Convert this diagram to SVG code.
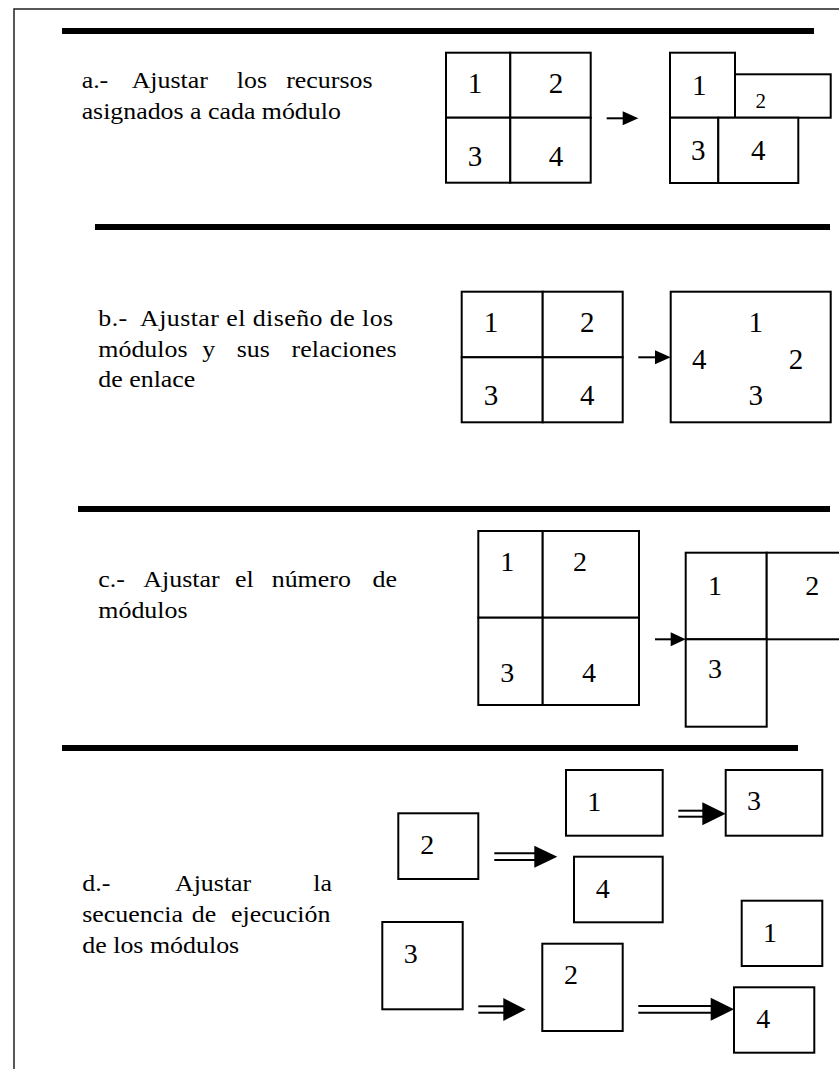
<svg xmlns="http://www.w3.org/2000/svg" width="839" height="1069" viewBox="0 0 839 1069" font-family="'Liberation Serif', 'Times New Roman', serif">
<style>
.frame{fill:none;stroke:#222;stroke-width:1.5}
.rule{stroke:#000;stroke-width:6}
.box{fill:#fff;stroke:#000;stroke-width:2}
.txt{font-family:'Liberation Serif','Times New Roman',serif;font-size:24px;fill:#000}
.num{font-family:'Liberation Serif','Times New Roman',serif;font-size:29px;fill:#000;text-anchor:middle}
.num28{font-family:'Liberation Serif','Times New Roman',serif;font-size:28px;fill:#000;text-anchor:middle}
.sm{font-family:'Liberation Serif','Times New Roman',serif;font-size:21px;fill:#000;text-anchor:middle}
.ln{stroke:#000;stroke-width:2;fill:none}
.head{fill:#000}
</style>
<rect class="frame" x="14" y="9" width="900" height="1100"/>
<g id="rules">
<line class="rule" x1="62" y1="31" x2="814" y2="31"/>
<line class="rule" x1="95" y1="227" x2="830" y2="227"/>
<line class="rule" x1="78" y1="509" x2="830" y2="509"/>
<line class="rule" x1="62" y1="748" x2="798" y2="748"/>
</g>
<g id="labels" transform="scale(1.08,1)">
<text class="txt" y="88"><tspan x="75.6">a.-</tspan><tspan x="121.9">Ajustar</tspan><tspan x="219.2">los</tspan><tspan x="265">recursos</tspan></text>
<text class="txt" x="75.6" y="119" textLength="240" lengthAdjust="spacingAndGlyphs">asignados a cada módulo</text>
<text class="txt" x="91" y="326" textLength="273" lengthAdjust="spacing">b.-&#160; Ajustar el diseño de los</text>
<text class="txt" y="357"><tspan x="91">módulos</tspan><tspan x="187.3">y</tspan><tspan x="219.2">sus</tspan><tspan x="270">relaciones</tspan></text>
<text class="txt" x="91" y="387.5">de enlace</text>
<text class="txt" y="587.5"><tspan x="91">c.-</tspan><tspan x="132.7">Ajustar</tspan><tspan x="217.6">el</tspan><tspan x="251.6">número</tspan><tspan x="345">de</tspan></text>
<text class="txt" x="91" y="618.5">módulos</text>
<text class="txt" y="891"><tspan x="76.2">d.-</tspan><tspan x="162">Ajustar</tspan><tspan x="290.1">la</tspan></text>
<text class="txt" y="922"><tspan x="76.2">secuencia</tspan><tspan x="177.5">de</tspan><tspan x="214">ejecución</tspan></text>
<text class="txt" x="76.2" y="953">de los módulos</text>
</g>
<!-- Panel a -->
<g id="a-l1"><rect class="box" x="446" y="52.7" width="64.3" height="65"/><text class="num" x="475" y="93">1</text></g>
<g id="a-l2"><rect class="box" x="510.3" y="52.7" width="80.4" height="65"/><text class="num" x="556" y="93">2</text></g>
<g id="a-l3"><rect class="box" x="446" y="117.7" width="64.3" height="65"/><text class="num" x="475" y="166">3</text></g>
<g id="a-l4"><rect class="box" x="510.3" y="117.7" width="80.4" height="65"/><text class="num" x="556" y="166">4</text></g>
<g id="a-r1"><rect class="box" x="670" y="52.7" width="65" height="65"/><text class="num" x="699.3" y="95">1</text></g>
<g id="a-r2"><rect class="box" x="735" y="74.3" width="95.7" height="43.4"/><text class="sm" x="760.7" y="108">2</text></g>
<g id="a-r3"><rect class="box" x="670" y="117.7" width="48.3" height="65.3"/><text class="num" x="698.3" y="160">3</text></g>
<g id="a-r4"><rect class="box" x="718.3" y="117.7" width="80" height="65.3"/><text class="num" x="758.3" y="160">4</text></g>
<!-- Panel b -->
<g id="b-l1"><rect class="box" x="461.7" y="291.7" width="81" height="65.6"/><text class="num" x="491" y="332">1</text></g>
<g id="b-l2"><rect class="box" x="542.7" y="291.7" width="80" height="65.6"/><text class="num" x="587.3" y="332">2</text></g>
<g id="b-l3"><rect class="box" x="461.7" y="357.3" width="81" height="65"/><text class="num" x="491" y="405">3</text></g>
<g id="b-l4"><rect class="box" x="542.7" y="357.3" width="80" height="65"/><text class="num" x="587.3" y="405">4</text></g>
<g id="b-r"><rect class="box" x="670.7" y="291.7" width="160" height="130.6"/><text class="num" x="755.7" y="332">1</text><text class="num" x="699.3" y="368.5">4</text><text class="num" x="796" y="368.5">2</text><text class="num" x="755.7" y="405">3</text></g>
<!-- Panel c -->
<g id="c-l1"><rect class="box" x="478.3" y="531" width="64.4" height="86.7"/><text class="num28" x="507.3" y="570.7">1</text></g>
<g id="c-l2"><rect class="box" x="542.7" y="531" width="96.3" height="86.7"/><text class="num28" x="580" y="570.7">2</text></g>
<g id="c-l3"><rect class="box" x="478.3" y="617.7" width="64.4" height="87.3"/><text class="num28" x="507.3" y="681.7">3</text></g>
<g id="c-l4"><rect class="box" x="542.7" y="617.7" width="96.3" height="87.3"/><text class="num28" x="589" y="681.7">4</text></g>
<g id="c-r1"><rect class="box" x="685.7" y="552.7" width="81" height="86.6"/><text class="num28" x="715" y="595">1</text></g>
<g id="c-r2"><rect class="box" x="766.7" y="552.7" width="100" height="86.6"/><text class="num28" x="812.3" y="595">2</text></g>
<g id="c-r3"><rect class="box" x="685.7" y="639.3" width="81" height="87.4"/><text class="num28" x="715" y="678.3">3</text></g>
<!-- Panel d -->
<g id="d-2a"><rect class="box" x="398.3" y="813.3" width="80" height="65.7"/><text class="num28" x="427.3" y="854.3">2</text></g>
<g id="d-1a"><rect class="box" x="566" y="770" width="96.7" height="65.7"/><text class="num28" x="594.3" y="811">1</text></g>
<g id="d-4a"><rect class="box" x="574" y="856.7" width="88.7" height="65.6"/><text class="num28" x="602.7" y="897.7">4</text></g>
<g id="d-3a"><rect class="box" x="725.7" y="770" width="96.6" height="65.7"/><text class="num28" x="754" y="810">3</text></g>
<g id="d-1b"><rect class="box" x="741.7" y="900.7" width="80.6" height="65.3"/><text class="num28" x="770" y="941.7">1</text></g>
<g id="d-3b"><rect class="box" x="382.3" y="922" width="80.4" height="87.3"/><text class="num28" x="410.7" y="962.7">3</text></g>
<g id="d-2b"><rect class="box" x="542.3" y="943.7" width="80.4" height="87.3"/><text class="num28" x="571" y="984.3">2</text></g>
<g id="d-4b"><rect class="box" x="734" y="987.3" width="80.3" height="65.4"/><text class="num28" x="763.3" y="1028.3">4</text></g>
<g id="connectors">
<line class="ln" x1="606.7" y1="118.3" x2="624" y2="118.3"/><polygon class="head" points="622.7,111.3 638.3,118.3 622.7,125.3"/>
<line class="ln" x1="638.3" y1="357.3" x2="656" y2="357.3"/><polygon class="head" points="655,350.3 670.7,357.3 655,364.3"/>
<line class="ln" x1="655" y1="639.3" x2="672" y2="639.3"/><polygon class="head" points="670.7,632.3 685.7,639.3 670.7,646.3"/>
<line class="ln" x1="494.3" y1="853.3" x2="535" y2="853.3"/><line class="ln" x1="494.3" y1="860" x2="535" y2="860"/><polygon class="head" points="534.3,845.7 557.3,856.7 534.3,867.7"/>
<line class="ln" x1="678.3" y1="810.7" x2="703" y2="810.7"/><line class="ln" x1="678.3" y1="816.7" x2="703" y2="816.7"/><polygon class="head" points="702.3,802.2 725.7,813.7 702.3,825.2"/>
<line class="ln" x1="478.3" y1="1006.3" x2="504" y2="1006.3"/><line class="ln" x1="478.3" y1="1012.7" x2="504" y2="1012.7"/><polygon class="head" points="503.3,998 525.7,1009.5 503.3,1021"/>
<line class="ln" x1="638.3" y1="1006" x2="711" y2="1006"/><line class="ln" x1="638.3" y1="1012.7" x2="711" y2="1012.7"/><polygon class="head" points="710.7,997.8 734,1009.3 710.7,1020.8"/>
</g>
</svg>
